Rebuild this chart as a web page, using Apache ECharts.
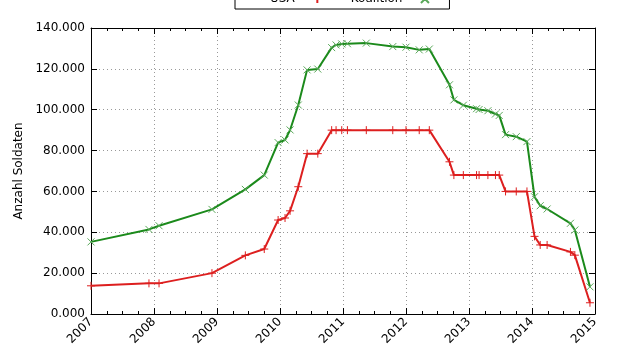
<!DOCTYPE html>
<html>
<head>
<meta charset="utf-8">
<script src="https://cdn.jsdelivr.net/npm/echarts@6/dist/echarts.min.js"></script>
<style>html,body{margin:0;padding:0;background:#fff}#c{width:638px;height:356px}</style>
</head>
<body>
<div id="c"></div>
<script>
const dates = [2007.0, 2007.92, 2008.08, 2008.92, 2009.45, 2009.75, 2009.97, 2010.08, 2010.16, 2010.29,
  2010.43, 2010.60, 2010.82, 2010.89, 2010.98, 2011.07, 2011.37, 2011.79, 2012.0, 2012.21,
  2012.37, 2012.69, 2012.76, 2012.91, 2013.12, 2013.16, 2013.30, 2013.42, 2013.48, 2013.58,
  2013.75, 2013.92, 2014.04, 2014.13, 2014.24, 2014.61, 2014.68, 2014.92];
const usa = [13800, 15000, 15000, 20000, 28700, 31800, 46000, 47000, 50500, 62300,
  78500, 78500, 90000, 90000, 90000, 90000, 90000, 90000, 90000, 90000,
  90000, 74500, 68000, 68000, 68000, 68000, 68000, 68000, 68000, 60000,
  60000, 60000, 38000, 33800, 33800, 30400, 28800, 5500];
const koalition = [35300, 41400, 43200, 51200, 61000, 68000, 83900, 85200, 90100, 102300,
  119500, 119900, 130400, 131700, 132200, 132300, 132600, 130900, 130600, 129300,
  129700, 112200, 104800, 102200, 100500, 100100, 99500, 97900, 97200, 87800,
  86800, 84400, 57400, 53000, 51400, 44400, 41100, 13300];
const seriesNames = ['USA', 'Koalition'];
const xTickLabels = ['2007', '2008', '2009', '2010', '2011', '2012', '2013', '2014', '2015'];
const yTickLabels = ['0.000', '20.000', '40.000', '60.000', '80.000', '100.000', '120.000', '140.000'];
const yLabel = 'Anzahl Soldaten';

const FONT = 'DejaVu Sans';
const RED = '#dd1f1f';
const GREEN = '#1b8a1b';
const plusSym = 'path://M0,5L10,5M5,0L5,10';
const crossSym = 'path://M0,0L10,10M10,0L0,10';

const chart = echarts.init(document.getElementById('c'), null, {renderer: 'canvas'});
const tickCommon = {
  axisLine: {onZero: false, lineStyle: {color: '#000', width: 1}},
  axisTick: {show: true, inside: true, length: 6, lineStyle: {color: '#000'}},
};
const xBase = Object.assign({
  type: 'value', min: 2007, max: 2015, interval: 1,
  minorTick: {show: true, splitNumber: 4, length: 3, lineStyle: {color: '#000'}}
}, tickCommon);
const yBase = Object.assign({
  type: 'value', min: 0, max: 140000, interval: 20000
}, tickCommon);

chart.setOption({
  animation: false,
  backgroundColor: '#fff',
  grid: {left: 91, right: 43, top: 28, bottom: 42, containLabel: false},
  legend: {
    data: seriesNames,
    left: 235, top: -11,
    align: 'right',
    orient: 'horizontal',
    padding: [4, 6, 4, 35],
    itemGap: 15,
    itemWidth: 35, itemHeight: 10,
    borderColor: '#000', borderWidth: 1,
    backgroundColor: '#fff',
    textStyle: {fontFamily: FONT, fontSize: 12, color: '#000'}
  },
  xAxis: [
    Object.assign({}, xBase, {
      position: 'bottom',
      axisLabel: {
        rotate: 45, margin: 6, fontFamily: FONT, fontSize: 12, color: '#000',
        formatter: v => xTickLabels[Math.round(v - 2007)]
      },
      splitLine: {show: true, lineStyle: {type: [1, 3], color: '#999', width: 1}}
    }),
    Object.assign({}, xBase, {
      position: 'top',
      axisLabel: {show: false},
      splitLine: {show: false}
    })
  ],
  yAxis: [
    Object.assign({}, yBase, {
      position: 'left',
      name: yLabel, nameLocation: 'middle', nameGap: 57,
      nameTextStyle: {fontFamily: FONT, fontSize: 12, color: '#000'},
      axisLabel: {
        margin: 6, fontFamily: FONT, fontSize: 12, color: '#000',
        formatter: v => yTickLabels[Math.round(v / 20000)]
      },
      splitLine: {show: true, lineStyle: {type: [1, 3], color: '#999', width: 1}}
    }),
    Object.assign({}, yBase, {
      position: 'right',
      axisLabel: {show: false},
      splitLine: {show: false}
    })
  ],
  series: [
    {
      name: seriesNames[0], type: 'line', xAxisIndex: 0, yAxisIndex: 0,
      data: dates.map((d, i) => [d, usa[i]]),
      showSymbol: true, symbol: plusSym, symbolSize: 8,
      lineStyle: {color: RED, width: 2},
      itemStyle: {color: RED, borderColor: RED, borderWidth: 1},
      emphasis: {disabled: true}
    },
    {
      name: seriesNames[1], type: 'line', xAxisIndex: 0, yAxisIndex: 0,
      data: dates.map((d, i) => [d, koalition[i]]),
      showSymbol: true, symbol: crossSym, symbolSize: 7,
      lineStyle: {color: GREEN, width: 2},
      itemStyle: {color: GREEN, borderColor: '#5aa85a', borderWidth: 1},
      emphasis: {disabled: true}
    }
  ]
});
</script>
</body>
</html>
